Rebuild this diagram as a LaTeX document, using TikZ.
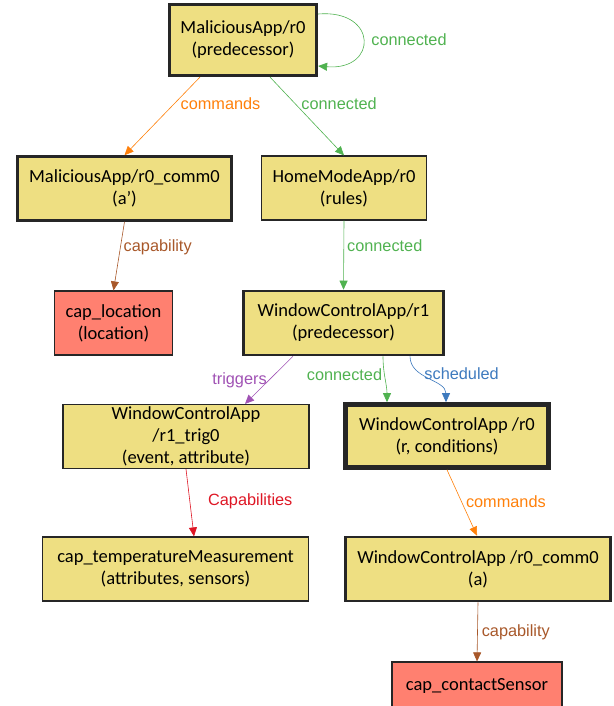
\documentclass[tikz,border=0pt]{standalone}
\usepackage{fontspec}
\setmainfont{Carlito}
\newfontfamily\labelfont{Liberation Sans}
\usetikzlibrary{arrows.meta}

\definecolor{boxyellow}{RGB}{238,223,130}
\definecolor{capred}{RGB}{255,128,112}
\definecolor{conngreen}{RGB}{80,178,80}
\definecolor{cmdorange}{RGB}{255,128,10}
\definecolor{capbrown}{RGB}{168,88,42}
\definecolor{trigpurple}{RGB}{160,82,180}
\definecolor{schedblue}{RGB}{62,122,190}
\definecolor{capsred}{RGB}{222,22,36}

\begin{document}
\begin{tikzpicture}[x=1pt, y=-1pt, ->, >={Triangle[length=9pt,width=8pt]}, line width=0.6pt,
  appbox/.style={draw=black!85, fill=boxyellow, rectangle, minimum height=64pt, inner xsep=2pt, inner ysep=1pt,
    align=center, font=\fontsize{18.5}{22}\selectfont, line width=1.2pt},
  capbox/.style={appbox, fill=capred},
  boldbox/.style={line width=2.6pt},
  heavybox/.style={line width=3.2pt},
  heavierbox/.style={line width=4.6pt},
  lbl/.style={font=\labelfont\fontsize{16.3}{19}\selectfont, inner sep=2pt}]

\useasboundingbox (0,0) rectangle (613,706);

\node[appbox, heavybox, minimum width=147pt, minimum height=71pt] (MAr0) at (243,40) {MaliciousApp/r0\\(predecessor)};
\node[appbox, boldbox, minimum width=214pt] (MAcomm) at (124.5,188.5) {MaliciousApp/r0\_comm0\\(a’)};
\node[appbox, minimum width=165pt] (HMr0) at (344,188) {HomeModeApp/r0\\(rules)};
\node[capbox, minimum width=118pt] (caploc) at (113.5,323) {cap\_location\\(location)};
\node[appbox, boldbox, minimum width=200pt] (WCr1) at (343.5,323) {WindowControlApp/r1\\(predecessor)};
\node[appbox, minimum width=246pt] (WCtrig) at (186,436.5) {WindowControlApp\\/r1\_trig0\\(event, attribute)};
\node[appbox, heavierbox, minimum width=203pt, minimum height=63pt] (WCr0) at (447,436) {WindowControlApp /r0\\(r, conditions)};
\node[appbox, minimum width=266pt] (captemp) at (175.5,569) {cap\_temperatureMeasurement\\(attributes, sensors)};
\node[appbox, boldbox, minimum width=265pt] (WCcomm) at (478,569) {WindowControlApp /r0\_comm0\\(a)};
\node[capbox, minimum width=170pt, minimum height=47pt] (capcontact) at (477,685.5) {cap\_contactSensor};

% top row
\draw[conngreen] ([yshift=26pt]MAr0.east) .. controls +(60,-5) and +(60,5) .. ([yshift=-26pt]MAr0.east)
  node[lbl, pos=.5, right=6pt] {connected};
\path ([xshift=-43pt]MAr0.south) edge[cmdorange] node[lbl, pos=.34, right=4pt] {commands} (MAcomm.north)
      ([xshift=27pt]MAr0.south) edge[conngreen] node[lbl, pos=.34, right=4pt] {connected} (HMr0.north);

% middle
\path (MAcomm.south) edge[capbrown] node[lbl, pos=.37, right=1pt] {capability} (caploc.north)
      (HMr0.south) edge[conngreen] node[lbl, pos=.37, right=1pt] {connected} (WCr1.north);
\path ([xshift=-50.5pt]WCr1.south) edge[trigpurple] node[lbl, pos=.5, left] {triggers} ([xshift=59pt]WCtrig.north)
      ([xshift=39.5pt]WCr1.south) edge[conngreen, out=-90, in=90] node[lbl, pos=.4, left] {connected} ([xshift=-60pt]WCr0.north)
      ([xshift=66.5pt]WCr1.south) edge[schedblue, out=-90, in=90] node[lbl, pos=.35, right=2pt] {scheduled} ([xshift=-1pt]WCr0.north);

% bottom
\path (WCtrig.south) edge[capsred] node[lbl, pos=.48, right=16pt] {Capabilities} ([xshift=18.5pt]captemp.north)
      (WCr0.south) edge[cmdorange] node[lbl, pos=.49, right=2pt] {commands} ([xshift=-1pt]WCcomm.north)
      (WCcomm.south) edge[capbrown] node[lbl, pos=.5, right=2pt] {capability} (capcontact.north);

\end{tikzpicture}
\end{document}
